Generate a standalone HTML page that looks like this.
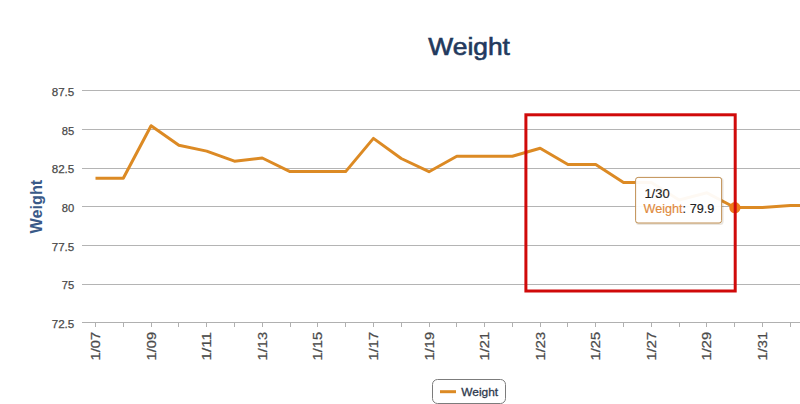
<!DOCTYPE html>
<html><head><meta charset="utf-8"><title>Weight</title>
<style>html,body{margin:0;padding:0;background:#fff;width:800px;height:404px;overflow:hidden;font-family:"Liberation Sans", sans-serif;}</style>
</head><body>
<svg width="800" height="404" viewBox="0 0 800 404" style="position:absolute;left:0;top:0">
<rect x="0" y="0" width="800" height="404" fill="#ffffff"/>
<path d="M82 90.5H800" stroke="#b4b4b4" stroke-width="1" fill="none"/>
<path d="M82 129.5H800" stroke="#b4b4b4" stroke-width="1" fill="none"/>
<path d="M82 168.5H800" stroke="#b4b4b4" stroke-width="1" fill="none"/>
<path d="M82 206.5H800" stroke="#b4b4b4" stroke-width="1" fill="none"/>
<path d="M82 245.5H800" stroke="#b4b4b4" stroke-width="1" fill="none"/>
<path d="M82 284.5H800" stroke="#b4b4b4" stroke-width="1" fill="none"/>
<path d="M82 322.5H800" stroke="#b0b0b0" stroke-width="1" fill="none"/>
<path d="M95.5 322V327" stroke="#b0b0b0" stroke-width="1" fill="none"/>
<path d="M123.5 322V327" stroke="#b0b0b0" stroke-width="1" fill="none"/>
<path d="M151.5 322V327" stroke="#b0b0b0" stroke-width="1" fill="none"/>
<path d="M178.5 322V327" stroke="#b0b0b0" stroke-width="1" fill="none"/>
<path d="M206.5 322V327" stroke="#b0b0b0" stroke-width="1" fill="none"/>
<path d="M234.5 322V327" stroke="#b0b0b0" stroke-width="1" fill="none"/>
<path d="M262.5 322V327" stroke="#b0b0b0" stroke-width="1" fill="none"/>
<path d="M290.5 322V327" stroke="#b0b0b0" stroke-width="1" fill="none"/>
<path d="M317.5 322V327" stroke="#b0b0b0" stroke-width="1" fill="none"/>
<path d="M345.5 322V327" stroke="#b0b0b0" stroke-width="1" fill="none"/>
<path d="M373.5 322V327" stroke="#b0b0b0" stroke-width="1" fill="none"/>
<path d="M401.5 322V327" stroke="#b0b0b0" stroke-width="1" fill="none"/>
<path d="M429.5 322V327" stroke="#b0b0b0" stroke-width="1" fill="none"/>
<path d="M456.5 322V327" stroke="#b0b0b0" stroke-width="1" fill="none"/>
<path d="M484.5 322V327" stroke="#b0b0b0" stroke-width="1" fill="none"/>
<path d="M512.5 322V327" stroke="#b0b0b0" stroke-width="1" fill="none"/>
<path d="M540.5 322V327" stroke="#b0b0b0" stroke-width="1" fill="none"/>
<path d="M567.5 322V327" stroke="#b0b0b0" stroke-width="1" fill="none"/>
<path d="M595.5 322V327" stroke="#b0b0b0" stroke-width="1" fill="none"/>
<path d="M623.5 322V327" stroke="#b0b0b0" stroke-width="1" fill="none"/>
<path d="M651.5 322V327" stroke="#b0b0b0" stroke-width="1" fill="none"/>
<path d="M679.5 322V327" stroke="#b0b0b0" stroke-width="1" fill="none"/>
<path d="M706.5 322V327" stroke="#b0b0b0" stroke-width="1" fill="none"/>
<path d="M734.5 322V327" stroke="#b0b0b0" stroke-width="1" fill="none"/>
<path d="M762.5 322V327" stroke="#b0b0b0" stroke-width="1" fill="none"/>
<path d="M790.5 322V327" stroke="#b0b0b0" stroke-width="1" fill="none"/>
<text x="74.3" y="96.00" text-anchor="end" font-family='"Liberation Sans", sans-serif' font-size="11.2" fill="#4a4a4a" stroke="#4a4a4a" stroke-width="0.25" textLength="22.6" lengthAdjust="spacingAndGlyphs">87.5</text>
<text x="74.3" y="134.68" text-anchor="end" font-family='"Liberation Sans", sans-serif' font-size="11.2" fill="#4a4a4a" stroke="#4a4a4a" stroke-width="0.25">85</text>
<text x="74.3" y="173.36" text-anchor="end" font-family='"Liberation Sans", sans-serif' font-size="11.2" fill="#4a4a4a" stroke="#4a4a4a" stroke-width="0.25" textLength="22.6" lengthAdjust="spacingAndGlyphs">82.5</text>
<text x="74.3" y="212.04" text-anchor="end" font-family='"Liberation Sans", sans-serif' font-size="11.2" fill="#4a4a4a" stroke="#4a4a4a" stroke-width="0.25">80</text>
<text x="74.3" y="250.72" text-anchor="end" font-family='"Liberation Sans", sans-serif' font-size="11.2" fill="#4a4a4a" stroke="#4a4a4a" stroke-width="0.25" textLength="22.6" lengthAdjust="spacingAndGlyphs">77.5</text>
<text x="74.3" y="289.40" text-anchor="end" font-family='"Liberation Sans", sans-serif' font-size="11.2" fill="#4a4a4a" stroke="#4a4a4a" stroke-width="0.25">75</text>
<text x="74.3" y="328.08" text-anchor="end" font-family='"Liberation Sans", sans-serif' font-size="11.2" fill="#4a4a4a" stroke="#4a4a4a" stroke-width="0.25" textLength="22.6" lengthAdjust="spacingAndGlyphs">72.5</text>
<text transform="translate(100.1,332) rotate(-90)" text-anchor="end" font-family='"Liberation Sans", sans-serif' font-size="12.6" fill="#4a4a4a" stroke="#4a4a4a" stroke-width="0.25" textLength="28.4" lengthAdjust="spacingAndGlyphs">1/07</text>
<text transform="translate(156.1,332) rotate(-90)" text-anchor="end" font-family='"Liberation Sans", sans-serif' font-size="12.6" fill="#4a4a4a" stroke="#4a4a4a" stroke-width="0.25" textLength="28.4" lengthAdjust="spacingAndGlyphs">1/09</text>
<text transform="translate(211.1,332) rotate(-90)" text-anchor="end" font-family='"Liberation Sans", sans-serif' font-size="12.6" fill="#4a4a4a" stroke="#4a4a4a" stroke-width="0.25" textLength="28.4" lengthAdjust="spacingAndGlyphs">1/11</text>
<text transform="translate(267.1,332) rotate(-90)" text-anchor="end" font-family='"Liberation Sans", sans-serif' font-size="12.6" fill="#4a4a4a" stroke="#4a4a4a" stroke-width="0.25" textLength="28.4" lengthAdjust="spacingAndGlyphs">1/13</text>
<text transform="translate(322.1,332) rotate(-90)" text-anchor="end" font-family='"Liberation Sans", sans-serif' font-size="12.6" fill="#4a4a4a" stroke="#4a4a4a" stroke-width="0.25" textLength="28.4" lengthAdjust="spacingAndGlyphs">1/15</text>
<text transform="translate(378.1,332) rotate(-90)" text-anchor="end" font-family='"Liberation Sans", sans-serif' font-size="12.6" fill="#4a4a4a" stroke="#4a4a4a" stroke-width="0.25" textLength="28.4" lengthAdjust="spacingAndGlyphs">1/17</text>
<text transform="translate(434.1,332) rotate(-90)" text-anchor="end" font-family='"Liberation Sans", sans-serif' font-size="12.6" fill="#4a4a4a" stroke="#4a4a4a" stroke-width="0.25" textLength="28.4" lengthAdjust="spacingAndGlyphs">1/19</text>
<text transform="translate(489.1,332) rotate(-90)" text-anchor="end" font-family='"Liberation Sans", sans-serif' font-size="12.6" fill="#4a4a4a" stroke="#4a4a4a" stroke-width="0.25" textLength="28.4" lengthAdjust="spacingAndGlyphs">1/21</text>
<text transform="translate(545.1,332) rotate(-90)" text-anchor="end" font-family='"Liberation Sans", sans-serif' font-size="12.6" fill="#4a4a4a" stroke="#4a4a4a" stroke-width="0.25" textLength="28.4" lengthAdjust="spacingAndGlyphs">1/23</text>
<text transform="translate(600.1,332) rotate(-90)" text-anchor="end" font-family='"Liberation Sans", sans-serif' font-size="12.6" fill="#4a4a4a" stroke="#4a4a4a" stroke-width="0.25" textLength="28.4" lengthAdjust="spacingAndGlyphs">1/25</text>
<text transform="translate(656.1,332) rotate(-90)" text-anchor="end" font-family='"Liberation Sans", sans-serif' font-size="12.6" fill="#4a4a4a" stroke="#4a4a4a" stroke-width="0.25" textLength="28.4" lengthAdjust="spacingAndGlyphs">1/27</text>
<text transform="translate(711.1,332) rotate(-90)" text-anchor="end" font-family='"Liberation Sans", sans-serif' font-size="12.6" fill="#4a4a4a" stroke="#4a4a4a" stroke-width="0.25" textLength="28.4" lengthAdjust="spacingAndGlyphs">1/29</text>
<text transform="translate(767.1,332) rotate(-90)" text-anchor="end" font-family='"Liberation Sans", sans-serif' font-size="12.6" fill="#4a4a4a" stroke="#4a4a4a" stroke-width="0.25" textLength="28.4" lengthAdjust="spacingAndGlyphs">1/31</text>
<text x="428.3" y="55" font-family='"Liberation Sans", sans-serif' font-size="23.5" fill="#22395d" stroke="#22395d" stroke-width="0.6" textLength="81.6" lengthAdjust="spacingAndGlyphs">Weight</text>
<text transform="translate(41.5,233.4) rotate(-90)" font-family='"Liberation Sans", sans-serif' font-size="16" font-weight="bold" fill="#3a5a88" textLength="53.6" lengthAdjust="spacingAndGlyphs">Weight</text>
<polyline points="95.50,178.30 123.29,178.30 151.08,125.70 178.88,145.20 206.67,151.10 234.46,161.20 262.25,158.00 290.04,171.60 317.83,171.60 345.63,171.60 373.42,138.40 401.21,158.50 429.00,171.70 456.79,156.30 484.58,156.30 512.38,156.30 540.17,148.30 567.96,164.50 595.75,164.50 623.54,182.50 651.33,182.60 679.13,200.00 706.92,192.80 734.71,207.50 762.50,207.40 790.29,205.50 818.08,205.50" fill="none" stroke="#dc8a24" stroke-width="3" stroke-linejoin="round" stroke-linecap="butt"/>
<rect x="636.6" y="178.4" width="86.0" height="45.599999999999994" rx="2.5" fill="none" stroke="#5a3a10" stroke-opacity="0.13" stroke-width="2"/>
<rect x="635.6" y="177.4" width="86.0" height="45.599999999999994" rx="2.5" fill="#ffffff" fill-opacity="0.95" stroke="#c08f52" stroke-width="1"/>
<text x="644.4" y="197.8" font-family='"Liberation Sans", sans-serif' font-size="12" fill="#222" stroke="#222" stroke-width="0.15" textLength="25.3" lengthAdjust="spacingAndGlyphs">1/30</text>
<text x="643.6" y="213.2" font-family='"Liberation Sans", sans-serif' font-size="12" fill="#222" stroke="#222" stroke-width="0.15" textLength="70.6" lengthAdjust="spacingAndGlyphs"><tspan fill="#e08a3c" stroke="#e08a3c" stroke-width="0.15">Weight</tspan>: 79.9</text>
<circle cx="734.9" cy="207.7" r="5.6" fill="#ee7b1c"/>
<rect x="525.9" y="114.8" width="209.3" height="176.2" fill="none" stroke="#d00a0a" stroke-width="3"/>
<rect x="432.5" y="379.5" width="73" height="24" rx="5" fill="#fff" stroke="#7c7c7c" stroke-width="1"/>
<path d="M440 391.7H456" stroke="#dc8a24" stroke-width="3" fill="none"/>
<text x="461.3" y="395.6" font-family='"Liberation Sans", sans-serif' font-size="11" fill="#2f3b4e" stroke="#2f3b4e" stroke-width="0.3" textLength="36.9" lengthAdjust="spacingAndGlyphs">Weight</text>
</svg>
</body></html>
